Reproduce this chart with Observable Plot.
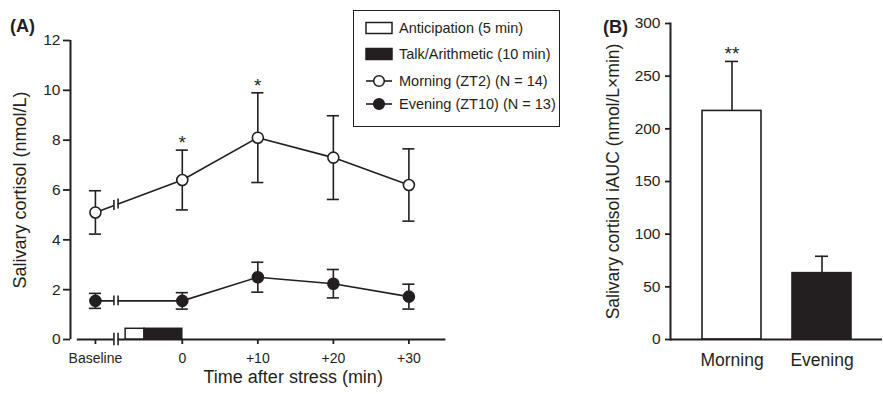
<!DOCTYPE html>
<html><head><meta charset="utf-8">
<script src="https://cdn.jsdelivr.net/npm/d3@7"></script>
<script src="https://cdn.jsdelivr.net/npm/@observablehq/plot@0.6"></script>
<style>
body{margin:0;background:#fff;font-family:"Liberation Sans",Arial,sans-serif;color:#231f20}
#wrap{position:relative;width:883px;height:394px;overflow:hidden;background:#fff}
#wrap svg.chart{position:absolute;top:0}
.panel{position:absolute;font-weight:bold;font-size:18px;line-height:18px}
#legend{position:absolute;left:353px;top:10px;width:205px;height:115px;border:1.6px solid #231f20;box-sizing:content-box;background:#fff}
.row{position:absolute;left:11px;height:20px;display:flex;align-items:center;font-size:14.5px;white-space:nowrap}
.row svg{margin-right:6px;display:block}
</style></head><body>
<div id="wrap"></div>
<script>
// ---------- Data: panel A ----------
const timeLabels = ["Baseline", "0", "+10", "+20", "+30"];
const timeX = [-11.5, 0, 10, 20, 30];
const morningMean = [5.1, 6.4, 8.1, 7.3, 6.2];
const morningSem = [0.87, 1.2, 1.8, 1.68, 1.45];
const morningStars = ["", "*", "*", "", ""];
const eveningMean = [1.55, 1.55, 2.5, 2.24, 1.72];
const eveningSem = [0.3, 0.33, 0.6, 0.57, 0.5];
const yTicksA = [0, 2, 4, 6, 8, 10, 12];
const phaseNames = ["Anticipation (5 min)", "Talk/Arithmetic (10 min)"];
const phaseStart = [-7.5, -5];
const phaseEnd = [-5, 0];
const breakX = [-9.05, -8.5];
const seriesNames = ["Morning (ZT2) (N = 14)", "Evening (ZT10) (N = 13)"];

// ---------- Data: panel B ----------
const groupsB = ["Morning", "Evening"];
const aucMean = [217, 63];
const aucSem = [47, 16];
const aucStars = ["**", ""];
const yTicksB = [0, 50, 100, 150, 200, 250, 300];

const dark = "#231f20";
const font = '"Liberation Sans", Arial, sans-serif';

// ---------- build tables ----------
const morning = timeX.map((t, i) => ({t, mean: morningMean[i], sem: morningSem[i], grp: "m", star: morningStars[i]}));
const evening = timeX.map((t, i) => ({t, mean: eveningMean[i], sem: eveningSem[i], grp: "e", star: ""}));
const seriesA = morning.concat(evening);
const capHalfA = 0.8;
const capsA = seriesA.flatMap(d => [
  {x1: d.t - capHalfA, x2: d.t + capHalfA, y: d.mean + d.sem},
  {x1: d.t - capHalfA, x2: d.t + capHalfA, y: d.mean - d.sem}
]);
const phases = phaseNames.map((n, i) => ({n, start: phaseStart[i], end: phaseEnd[i]}));
// break marks where the first segment of each line (and the axis) is interrupted
const breakMarks = [];
for (const s of [morning, evening]) {
  const a = s[0], b = s[1];
  for (const bx of breakX) breakMarks.push({x: bx, y: a.mean + (b.mean - a.mean) * (bx - a.t) / (b.t - a.t), h: 0.2});
}
for (const bx of breakX) breakMarks.push({x: bx, y: 0, h: 0.25});

const xDomainA = [-14.8, 34.9];
const axisStartA = -13.9;

const plotA = Plot.plot({
  width: 580, height: 394,
  marginLeft: 70, marginRight: 134.6, marginTop: 40, marginBottom: 55,
  style: {fontFamily: font, color: dark, background: "transparent", overflow: "visible"},
  x: {domain: xDomainA},
  y: {domain: [0, 12]},
  marks: [
    Plot.line(seriesA, {x: "t", y: "mean", z: "grp", stroke: dark, strokeWidth: 1.6}),
    Plot.ruleX(seriesA, {x: "t", y1: d => d.mean - d.sem, y2: d => d.mean + d.sem, stroke: dark, strokeWidth: 1.6}),
    Plot.ruleY(capsA, {x1: "x1", x2: "x2", y: "y", stroke: dark, strokeWidth: 1.6}),
    Plot.ruleX([xDomainA[0]], {y1: 0, y2: 12, stroke: dark, strokeWidth: 2}),
    Plot.ruleY([0], {x1: axisStartA, x2: xDomainA[1], stroke: dark, strokeWidth: 2}),
    Plot.rect([{a: breakX[0], b: breakX[1]}], {x1: "a", x2: "b", y1: -0.25, y2: 12, fill: "white"}),
    Plot.ruleX(breakMarks, {x: "x", y1: d => d.y - d.h, y2: d => d.y + d.h, stroke: dark, strokeWidth: 1.6}),
    Plot.rect([phases[0]], {x1: "start", x2: "end", y1: 0, y2: 0.43, fill: "white", stroke: dark, strokeWidth: 1.5}),
    Plot.rect([phases[1]], {x1: "start", x2: "end", y1: 0, y2: 0.43, fill: dark, stroke: dark, strokeWidth: 1.5}),
    Plot.dot(morning, {x: "t", y: "mean", r: 5.5, fill: "white", stroke: dark, strokeWidth: 1.6}),
    Plot.dot(evening, {x: "t", y: "mean", r: 5.5, fill: dark, stroke: dark, strokeWidth: 1.6}),
    Plot.text(morning.filter(d => d.star), {x: "t", y: d => d.mean + d.sem, text: "star", fontSize: 19, dy: -7, fill: dark}),
    Plot.axisX({ticks: timeX, tickFormat: d => timeLabels[timeX.indexOf(d)], tickSize: 5, tickPadding: 9, fontSize: 14, strokeWidth: 1.8, label: null}),
    Plot.axisY({ticks: yTicksA, tickSize: 7, tickPadding: 3, fontSize: 15.5, strokeWidth: 1.8, label: null}),
    Plot.text(["Salivary cortisol (nmol/L)"], {text: d => d, frameAnchor: "left", textAnchor: "middle", rotate: -90, dx: -50, fontSize: 18, fill: dark}),
    Plot.text(["Time after stress (min)"], {text: d => d, frameAnchor: "bottom", dx: 35, dy: 43, fontSize: 18, fill: dark})
  ]
});
plotA.classList.add("chart");
plotA.style.left = "0px";

const dataB = groupsB.map((g, i) => ({g, v: aucMean[i], s: aucSem[i], star: aucStars[i]}));
const plotB = Plot.plot({
  width: 303, height: 394,
  marginLeft: 90, marginRight: 1, marginTop: 23, marginBottom: 55,
  style: {fontFamily: font, color: dark, background: "transparent", overflow: "visible"},
  x: {domain: groupsB, paddingInner: 0.35, paddingOuter: 0.344},
  y: {domain: [0, 300]},
  marks: [
    Plot.ruleX(dataB, {x: "g", y1: "v", y2: d => d.v + d.s, stroke: dark, strokeWidth: 1.6}),
    Plot.tickY(dataB, {x: "g", y: d => d.v + d.s, insetLeft: 23, insetRight: 23, stroke: dark, strokeWidth: 1.6}),
    Plot.barY([dataB[0]], {x: "g", y: "v", fill: "white", stroke: dark, strokeWidth: 1.6}),
    Plot.barY([dataB[1]], {x: "g", y: "v", fill: dark, stroke: dark, strokeWidth: 1.6}),
    Plot.text(dataB.filter(d => d.star), {x: "g", y: d => d.v + d.s, text: "star", fontSize: 19, dy: -7.5, fill: dark}),
    Plot.ruleY([0], {stroke: dark, strokeWidth: 2}),
    Plot.frame({anchor: "left", stroke: dark, strokeWidth: 2}),
    Plot.axisY({ticks: yTicksB, tickSize: 5, tickPadding: 5, fontSize: 15.5, strokeWidth: 1.8, label: null}),
    Plot.axisX({tickSize: 0, tickPadding: 14, fontSize: 17.5, label: null}),
    Plot.text(["Salivary cortisol iAUC (nmol/L×min)"], {text: d => d, frameAnchor: "left", textAnchor: "middle", rotate: -90, dx: -57, fontSize: 17.5, fill: dark})
  ]
});
plotB.classList.add("chart");
plotB.style.left = "580px";

const wrap = document.getElementById("wrap");
wrap.appendChild(plotA);
wrap.appendChild(plotB);

// panel labels
for (const [txt, left, top] of [["(A)", 10, 17], ["(B)", 603, 17.5]]) {
  const el = document.createElement("div");
  el.className = "panel";
  el.textContent = txt;
  el.style.left = left + "px";
  el.style.top = top + "px";
  wrap.appendChild(el);
}

// legend
const legend = document.createElement("div");
legend.id = "legend";
const rowCenters = [28.5, 55, 82, 105];
const legendItems = [
  {label: phaseNames[0], kind: "rect", fill: "white"},
  {label: phaseNames[1], kind: "rect", fill: dark},
  {label: seriesNames[0], kind: "dot", fill: "white"},
  {label: seriesNames[1], kind: "dot", fill: dark}
];
legendItems.forEach((it, i) => {
  const row = document.createElement("div");
  row.className = "row";
  row.style.top = (rowCenters[i] - 10 - 11.6) + "px";
  const sw = it.kind === "rect"
    ? `<svg width="28" height="14"><rect x="1" y="1.5" width="26" height="11" fill="${it.fill}" stroke="${dark}" stroke-width="1.5"/></svg>`
    : `<svg width="28" height="14"><line x1="1" x2="27" y1="7" y2="7" stroke="${dark}" stroke-width="1.6"/><circle cx="14" cy="7" r="5.3" fill="${it.fill}" stroke="${dark}" stroke-width="1.6"/></svg>`;
  row.innerHTML = sw + `<span>${it.label}</span>`;
  legend.appendChild(row);
});
wrap.appendChild(legend);
</script>
</body></html>
